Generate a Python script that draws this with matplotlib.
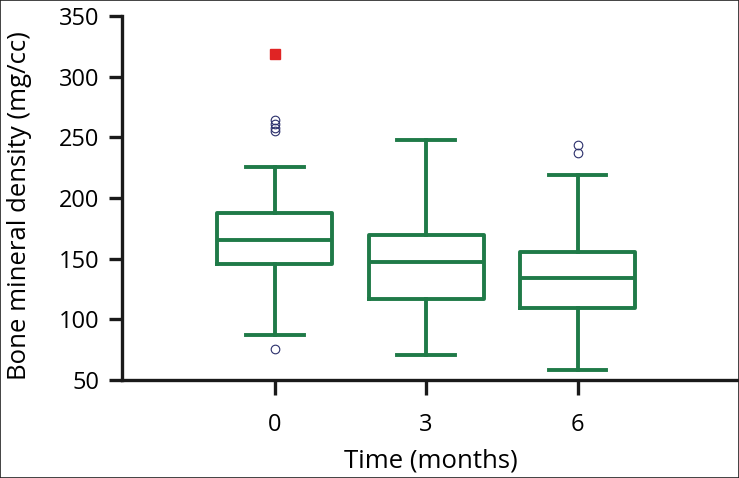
import matplotlib.pyplot as plt
from matplotlib.patches import Rectangle

# time points (months)
times = [0, 3, 6]
tick_labels = ["0", "3", "6"]

# box statistics (mg/cc)
whislo = [86.8, 70.6, 58.2]
q1 = [145.6, 116.8, 109.1]
med = [165.4, 147.3, 134.3]
q3 = [187.4, 169.5, 155.7]
whishi = [225.9, 247.8, 219.0]
fliers = [[75.3, 255.0, 258.0, 261.0, 264.0], [], [237.0, 244.0]]

# extreme point shown as red square
extreme_x = [0]
extreme_y = [318.7]

green = "#1f7a48"
plt.rcParams['font.family'] = ['Open Sans', 'DejaVu Sans']

fig = plt.figure(figsize=(7.39, 4.78), dpi=100)
ax = fig.add_axes([0.165, 0.205, 0.835, 0.7615])

stats = []
for i in range(len(times)):
    stats.append(dict(med=med[i], q1=q1[i], q3=q3[i], whislo=whislo[i],
                      whishi=whishi[i], fliers=fliers[i]))

lw = 2.8
ax.bxp(stats, positions=times, widths=2.28, showfliers=True,
       boxprops=dict(color=green, linewidth=lw),
       medianprops=dict(color=green, linewidth=lw),
       whiskerprops=dict(color=green, linewidth=lw),
       capprops=dict(color=green, linewidth=lw),
       flierprops=dict(marker='o', markerfacecolor='none', markeredgecolor='#2b2f6b',
                       markersize=6.2, markeredgewidth=0.8))
ax.plot(extreme_x, extreme_y, 's', color='#e02424', markersize=6.5)

ax.set_xlim(-3.03, 9.2)
ax.set_ylim(50, 350)
ax.set_xticks(times)
ax.set_xticklabels(tick_labels)
ax.set_yticks(range(50, 351, 50))

for s in ['top', 'right']:
    ax.spines[s].set_visible(False)
for s in ['left', 'bottom']:
    ax.spines[s].set_linewidth(2.4)
    ax.spines[s].set_color('#1a1a1a')
ax.tick_params(axis='y', length=9.4, width=2.4, color='#1a1a1a', labelsize=17, pad=7)
ax.tick_params(axis='x', length=11, width=2.4, color='#1a1a1a', labelsize=17, pad=13)

ax.set_xlabel('Time (months)', fontsize=18.5, labelpad=8)
ax.set_ylabel('Bone mineral density (mg/cc)', fontsize=18.5, labelpad=6)
ax.yaxis.set_label_coords(-0.145, 0.48)

fig.patches.append(Rectangle((0, 0), 1, 1, transform=fig.transFigure, fill=False,
                             edgecolor='#222222', linewidth=1.2))

fig.savefig('out.png', dpi=100)
